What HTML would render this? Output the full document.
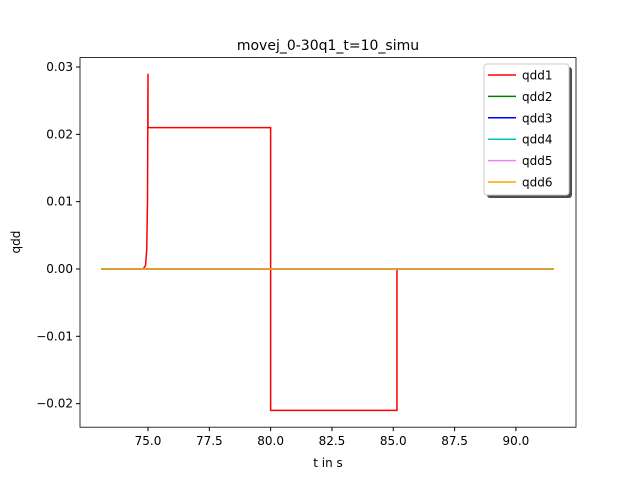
<!DOCTYPE html>
<html><head><meta charset="utf-8"><style>body{margin:0;background:#fff}svg{display:block}text{font-family:"DejaVu Sans","Liberation Sans",sans-serif}</style></head>
<body>
<svg id="c" width="640" height="480"></svg>
<script>
const seriesNames=["qdd1","qdd2","qdd3","qdd4","qdd5","qdd6"];
const colors=["#ff0000","#008000","#0000ff","#00bfbf","#ee82ee","#ffa500"];
const q1T=[73.1,74.8,74.9,74.95,74.98,75.0,75.0,75.05,80.0,80.0,85.15,85.15,91.55];
const q1V=[0,0,0.0005,0.003,0.01,0.029,0.021,0.021,0.021,-0.021,-0.021,0,0];
const flatT=[73.1,91.55];
const flatV=[0,0];
const xTicks=[75.0,77.5,80.0,82.5,85.0,87.5,90.0];
const yTicks=[0.03,0.02,0.01,0.00,-0.01,-0.02];
const NS="http://www.w3.org/2000/svg";
const svg=document.getElementById('c');
const L=80,R=576,T=57.6,B=427.2,x0=72.228,x1=92.45,y0=-0.0235,y1=0.0314;
const X=v=>L+(v-x0)/(x1-x0)*(R-L), Y=v=>B-(v-y0)/(y1-y0)*(B-T);
function el(t,a,p){const e=document.createElementNS(NS,t);for(const k in a)e.setAttribute(k,a[k]);(p||svg).appendChild(e);return e;}
const title=el('text',{x:328,y:50,'text-anchor':'middle','font-size':14});title.textContent="movej_0-30q1_t=10_simu";


xTicks.forEach(v=>{const x=X(v);el('line',{x1:x,x2:x,y1:B,y2:B+4,stroke:'#000'});const t=el('text',{x:x,y:B+18,'text-anchor':'middle','font-size':12});t.textContent=v.toFixed(1);

});
yTicks.forEach(v=>{const y=Y(v);el('line',{x1:L-4,x2:L,y1:y,y2:y,stroke:'#000'});const t=el('text',{x:L-7,y:y+4,'text-anchor':'end','font-size':12});t.textContent=(v<0?'\u2212':'')+Math.abs(v).toFixed(2);

});
const xl=el('text',{x:328,y:467,'text-anchor':'middle','font-size':12});xl.textContent="t in s";


const yl=el('text',{x:20,y:242,'text-anchor':'middle','font-size':12,transform:'rotate(-90 20 242)'});yl.textContent="qdd";


function line(ts,vs,c,name){const p=el('polyline',{points:ts.map((t,i)=>X(t)+','+Y(vs[i])).join(' '),fill:'none',stroke:c,'stroke-width':1.5});

}
line(q1T,q1V,colors[0],'series-qdd1');
for(let i=1;i<6;i++)line(flatT,flatV,colors[i],'series-'+seriesNames[i]);
el('rect',{x:L,y:T,width:R-L,height:B-T,fill:'none',stroke:'#000','stroke-width':0.8});
const g=el('g',{});


el('rect',{x:487,y:67,width:85,height:131,fill:'#4d4d4d',rx:3},g);
el('rect',{x:484,y:64,width:85,height:131,fill:'#fff',stroke:'#ccc',rx:3},g);
seriesNames.forEach((n,i)=>{const y=75+i*21.4;el('line',{x1:488,x2:516,y1:y,y2:y,stroke:colors[i],'stroke-width':1.5},g);const t=el('text',{x:522,y:y+4.5,'font-size':12},g);t.textContent=n;

});
</script>
</body></html>
